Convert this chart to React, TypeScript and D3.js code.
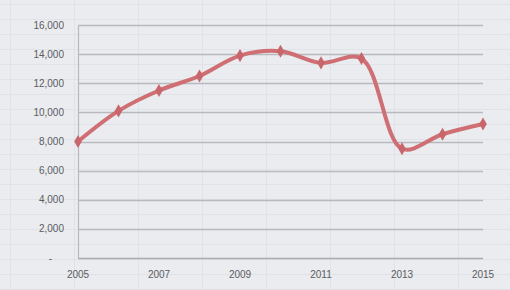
import { useEffect, useRef } from "react";
import * as d3 from "d3";

const years = [2005, 2006, 2007, 2008, 2009, 2010, 2011, 2012, 2013, 2014, 2015];
const values = [8000, 10100, 11500, 12500, 13900, 14200, 13400, 13700, 7500, 8500, 9200];
const yTicks = [0, 2000, 4000, 6000, 8000, 10000, 12000, 14000, 16000];
const xTickYears = [2005, 2007, 2009, 2011, 2013, 2015];

export default function App() {
  const svgRef = useRef<SVGSVGElement>(null);

  useEffect(() => {
    if (!svgRef.current) return;
    const width = 510;
    const height = 290;
    const margin = { top: 25, right: 27, bottom: 32, left: 78 };

    const svg = d3.select(svgRef.current);
    svg.selectAll("*").remove();

    // paper-like background
    svg
      .append("rect")
      .attr("width", width)
      .attr("height", height)
      .style("fill", "#eaecef");

    // faint spreadsheet cell lines behind the chart
    const cells = svg.append("g").style("stroke", "#dfe2e6").style("stroke-width", 1);
    d3.range(0, width, 64).forEach((x) => {
      cells.append("line").attr("x1", x + 10.5).attr("x2", x + 10.5).attr("y1", 0).attr("y2", height);
    });
    d3.range(0, height, 15).forEach((y) => {
      cells.append("line").attr("x1", 0).attr("x2", width).attr("y1", y + 4.5).attr("y2", y + 4.5);
    });

    const x = d3
      .scaleLinear()
      .domain([2005, 2015])
      .range([margin.left, width - margin.right]);
    const y = d3
      .scaleLinear()
      .domain([0, 16000])
      .range([height - margin.bottom, margin.top]);

    // horizontal gridlines
    svg
      .append("g")
      .selectAll("line")
      .data(yTicks)
      .enter()
      .append("line")
      .attr("x1", margin.left)
      .attr("x2", width - margin.right)
      .attr("y1", (d) => Math.round(y(d)) + 0.5)
      .attr("y2", (d) => Math.round(y(d)) + 0.5)
      .style("stroke", (d) => (d === 0 ? "#a9abb0" : "#b7b9be"))
      .style("stroke-width", 1.3);

    // vertical axis line
    svg
      .append("line")
      .attr("x1", margin.left + 0.5)
      .attr("x2", margin.left + 0.5)
      .attr("y1", y(16000))
      .attr("y2", y(0))
      .style("stroke", "#b7b9be")
      .style("stroke-width", 1.2);

    const fmt = d3.format(",");
    svg
      .append("g")
      .selectAll("text")
      .data(yTicks)
      .enter()
      .append("text")
      .attr("x", (d) => (d === 0 ? 52 : 64))
      .attr("y", (d) => y(d))
      .attr("dy", "0.35em")
      .attr("text-anchor", "end")
      .style("font-family", "'Liberation Sans', Arial, sans-serif")
      .style("font-size", "10px")
      .style("fill", "#5a5c62")
      .text((d) => (d === 0 ? "-" : fmt(d)));

    svg
      .append("g")
      .selectAll("text")
      .data(xTickYears)
      .enter()
      .append("text")
      .attr("x", (d) => x(d))
      .attr("y", 278)
      .attr("text-anchor", "middle")
      .style("font-family", "'Liberation Sans', Arial, sans-serif")
      .style("font-size", "10px")
      .style("fill", "#5a5c62")
      .text((d) => String(d));

    const points = years.map((yr, i) => [x(yr), y(values[i])] as [number, number]);

    const line = d3.line().curve(d3.curveCatmullRom.alpha(0.5));
    svg
      .append("path")
      .attr("d", line(points))
      .style("fill", "none")
      .style("stroke", "#cf6e73")
      .style("stroke-width", 4)
      .style("stroke-linejoin", "round");

    const diamond = d3.symbol().type(d3.symbolDiamond).size(50);
    svg
      .append("g")
      .selectAll("path")
      .data(points)
      .enter()
      .append("path")
      .attr("transform", (d) => `translate(${d[0]},${d[1]})`)
      .attr("d", diamond())
      .style("fill", "#c9666c");
  }, []);

  return (
    <svg
      ref={svgRef}
      width={510}
      height={290}
      style={{ position: "absolute", left: 0, top: 0 }}
    />
  );
}
